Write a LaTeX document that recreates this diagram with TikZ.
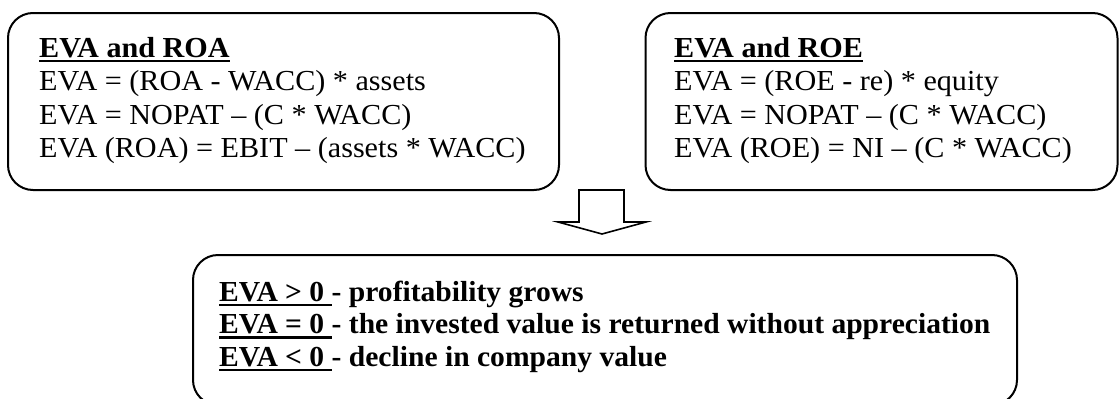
\documentclass[tikz,border=0pt]{standalone}
\usepackage{fontspec}
\usepackage{graphicx}
\setmainfont{Liberation Serif}
\newcommand{\ulx}[1]{\setbox0\hbox{#1}\leavevmode\rlap{\rule[-5pt]{\wd0}{2.5pt}}\box0}
\newcommand{\wtop}[1]{\scalebox{1.04}[1]{#1}}
\newcommand{\wbot}[1]{\scalebox{1.02}[1]{#1}}
\begin{document}
\begin{tikzpicture}[x=1pt,y=-1pt,
  box/.style={draw, line width=2pt, rounded corners=25pt, inner sep=0pt},
  txt/.style={anchor=base west, inner sep=0pt, font=\fontsize{29}{33}\selectfont},
  btxt/.style={anchor=base west, inner sep=0pt, font=\fontsize{29}{33}\selectfont\bfseries},
  blockarrow/.style={draw, line width=1.6pt, line join=miter}]
\useasboundingbox (0,0) rectangle (1120,399);
% boxes
\node[box, minimum width=551pt, minimum height=177pt] (roa) at (283.5,101.5) {};
\node[box, minimum width=472pt, minimum height=177pt] (roe) at (881.5,101.5) {};
\node[box, minimum width=824pt, minimum height=150pt] (res) at (605,330) {};
% left box text
\node[txt] (roa0) at (39,57) {\wtop{\bfseries\ulx{EVA and ROA}}};
\node[txt] (roa1) at (39,90.5) {\wtop{EVA = (ROA - WACC) * assets}};
\node[txt] (roa2) at (39,124) {\wtop{EVA = NOPAT – (C * WACC)}};
\node[txt] (roa3) at (39,157.5) {\wtop{EVA (ROA) = EBIT – (assets * WACC)}};
% right box text
\node[txt] (roe0) at (674,57) {\wtop{\bfseries\ulx{EVA and ROE}}};
\node[txt] (roe1) at (674,90.5) {\wtop{EVA = (ROE - re) * equity}};
\node[txt] (roe2) at (674,124) {\wtop{EVA = NOPAT – (C * WACC)}};
\node[txt] (roe3) at (674,157.5) {\wtop{EVA (ROE) = NI – (C * WACC)}};
% bottom text
\node[btxt] (res1) at (219,301) {\wbot{\ulx{EVA > 0 }- profitability grows}};
\node[btxt] (res2) at (219,333.5) {\wbot{\ulx{EVA = 0 }- the invested value is returned without appreciation}};
\node[btxt] (res3) at (219,366) {\wbot{\ulx{EVA < 0 }- decline in company value}};
% block arrow
\coordinate (a) at (601.5,190);
\draw[blockarrow] (a) ++(-22.5,0) -- ++(45,0) -- ++(0,32) -- ++(22,0) -- (602,234) -- (558,222) -- ++(21,0) -- cycle;
\end{tikzpicture}
\end{document}
